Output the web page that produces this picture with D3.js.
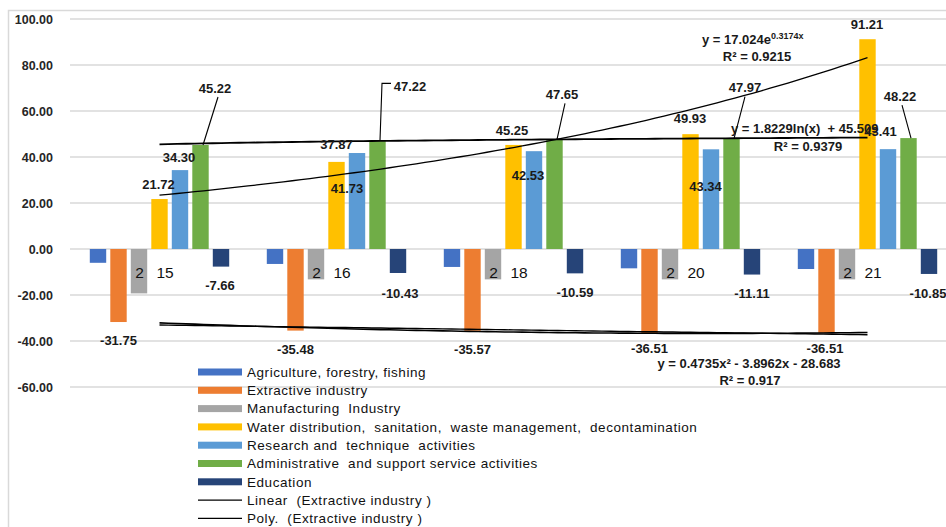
<!DOCTYPE html>
<html>
<head>
<meta charset="utf-8">
<script src="https://cdn.jsdelivr.net/npm/d3@7/dist/d3.min.js"></script>
<style>
  html, body { margin: 0; padding: 0; background: #fff; }
  svg { display: block; }
  text { font-family: "Liberation Sans", Arial, sans-serif; }
</style>
</head>
<body>
<svg id="chart" width="946" height="527"></svg>
<script>
// ---- data ----
const categories = ["2015", "2016", "2018", "2020", "2021"];
const seriesNames = [
  "Agriculture, forestry, fishing",
  "Extractive industry",
  "Manufacturing  Industry",
  "Water distribution,  sanitation,  waste management,  decontamination",
  "Research and  technique  activities",
  "Administrative  and support service activities",
  "Education"
];
const agriculture    = [-6.0, -6.5, -7.8, -8.4, -8.7];
const extractive     = [-31.75, -35.48, -35.57, -36.51, -36.51];
const manufacturing  = [-19.3, -13.2, -13.2, -13.2, -13.2];
const water          = [21.72, 37.87, 45.25, 49.93, 91.21];
const research       = [34.30, 41.73, 42.53, 43.34, 43.41];
const administrative = [45.22, 47.22, 47.65, 47.97, 48.22];
const education      = [-7.66, -10.43, -10.59, -11.11, -10.85];
const yTicks = [100, 80, 60, 40, 20, 0, -20, -40, -60];

// trendline coefficients (as reported on the chart)
const expWater = { a: 17.024, b: 0.3174, r2: 0.9215 };
const logAdmin = { a: 1.8229, b: 45.509, r2: 0.9379 };
const polyExtractive = { a: 0.4735, b: -3.8962, c: -28.683, r2: 0.917 };

const seriesValues = [agriculture, extractive, manufacturing, water, research, administrative, education];
const colors = ["#4472C4", "#ED7D31", "#A5A5A5", "#FFC000", "#5B9BD5", "#70AD47", "#264478"];

// number format with a plain hyphen for negatives
const fmt = d3.formatLocale({ decimal: ".", thousands: ",", grouping: [3], currency: ["", ""], minus: "-" }).format(".2f");

// ---- layout ----
const svg = d3.select("#chart");
const W = 946, H = 527;
const plotLeft = 71, plotRight = 956;

// outer border of the chart area
svg.append("rect").attr("x", 8.5).attr("y", 10.5).attr("width", 980).attr("height", 560)
  .attr("fill", "none").attr("stroke", "#d9d9d9").attr("stroke-width", 1.5);

const y = d3.scaleLinear().domain([-60, 100]).range([387, 19]);
const x0 = d3.scaleBand().domain(categories).range([plotLeft, plotRight]);
const x1 = d3.scaleBand().domain(d3.range(seriesNames.length)).range([0, x0.bandwidth()])
  .paddingInner(0.2).paddingOuter(0.917);
const xTrend = d3.scaleLinear().domain([1, 5])
  .range([x0(categories[0]) + x0.bandwidth() / 2, x0(categories[4]) + x0.bandwidth() / 2]);

// gridlines
svg.append("g").selectAll("line").data(yTicks).join("line")
  .attr("x1", 70).attr("x2", W).attr("y1", d => y(d)).attr("y2", d => y(d))
  .attr("stroke", "#d9d9d9").attr("stroke-width", 1.5);

// y axis labels
const yAxis = d3.axisLeft(y).tickValues(yTicks).tickFormat(fmt).tickSize(0).tickPadding(0);
const yg = svg.append("g").attr("transform", "translate(53,0)").call(yAxis);
yg.select(".domain").remove();
yg.selectAll("text").attr("font-family", "Liberation Sans, Arial, sans-serif")
  .attr("font-size", 12.5).attr("font-weight", "bold").attr("fill", "#262626");

// bars
const barsG = svg.append("g");
seriesValues.forEach((vals, si) => {
  barsG.append("g").selectAll("rect").data(vals).join("rect")
    .attr("x", (d, i) => x0(categories[i]) + x1(si))
    .attr("width", x1.bandwidth())
    .attr("y", d => y(Math.max(0, d)))
    .attr("height", d => Math.abs(y(d) - y(0)))
    .attr("fill", colors[si]);
});

// category labels sit just under the zero line
const catG = svg.append("g");
categories.forEach(c => {
  const t = catG.append("text")
    .attr("x", x0(c) + x0.bandwidth() / 2 - 1).attr("y", y(0) + 29)
    .attr("text-anchor", "middle").attr("font-size", 15.5).attr("fill", "#111");
  t.append("tspan").attr("dx", -4).text(c.slice(0, 1));
  t.append("tspan").attr("dx", 4).attr("fill", "none").text(c.slice(1, 2));
  t.append("tspan").text(c.slice(2));
});

// trendlines
const samples = d3.range(1, 5.0001, 0.05);
const lineGen = f => d3.line().x(t => xTrend(t)).y(t => y(f(t)))(samples);
const trendG = svg.append("g").attr("fill", "none").attr("stroke", "#000");

// linear least-squares fit of the extractive series
const xs = categories.map((c, i) => i + 1);
const mx = d3.mean(xs), my = d3.mean(extractive);
const slope = d3.sum(xs, (xv, i) => (xv - mx) * (extractive[i] - my)) / d3.sum(xs, xv => (xv - mx) ** 2);
const icpt = my - slope * mx;
trendG.append("path").attr("d", lineGen(t => icpt + slope * t)).attr("stroke-width", 1.4);
trendG.append("path").attr("d", lineGen(t => polyExtractive.a * t * t + polyExtractive.b * t + polyExtractive.c)).attr("stroke-width", 1.6);
trendG.append("path").attr("d", lineGen(t => expWater.a * Math.exp(expWater.b * t))).attr("stroke-width", 1.3);
trendG.append("path").attr("d", lineGen(t => logAdmin.a * Math.log(t) + logAdmin.b)).attr("stroke-width", 1.8);

// data labels: offsets from the bar's centre / outer end
const labelOffsets = {
  1: [[0, 18], [0, 18.5], [0, 19], [0, 15], [-1.5, 15]],
  3: [[-1, -15], [0, -18], [-1.5, -15], [-0.5, -16], [-0.5, -15]],
  4: [[-1, -13], [-10, 35], [-6, 24], [-5.5, 37], [-7.5, -18]],
  5: [[14.5, -57], [32.5, -54], [7.5, -45], [13.5, -51], [-8.5, -42]],
  6: [[-1, 18.5], [2, 20], [0, 19], [0, 18.5], [-1, 19]]
};
// leader lines for administrative labels, points relative to the label centre
const adminLeaders = [[[3, 9]], [[-19, -3], [-28, -3]], [[3, 9]], [[0, 9]], [[2, 9]]];

const labelG = svg.append("g");
const barCenter = (si, i) => x0(categories[i]) + x1(si) + x1.bandwidth() / 2;
Object.keys(labelOffsets).forEach(k => {
  const si = +k;
  seriesValues[si].forEach((v, i) => {
    const [dx, dy] = labelOffsets[si][i];
    const cx = barCenter(si, i) + dx, cy = y(v) + dy;
    if (si === 5) {
      const pts = adminLeaders[i].map(([px, py]) => [cx + px, cy + py]);
      pts.push([barCenter(si, i) + 2.5, y(v)]);
      labelG.append("path").attr("d", d3.line()(pts))
        .attr("fill", "none").attr("stroke", "#000").attr("stroke-width", 1.1);
    }
    labelG.append("text").attr("x", cx).attr("y", cy).attr("dy", "0.36em")
      .attr("text-anchor", "middle").attr("font-size", 13).attr("font-weight", "bold")
      .attr("fill", "#1a1a1a").text(fmt(v));
  });
});

// trendline equations
const eqG = svg.append("g").attr("font-size", 13).attr("font-weight", "bold").attr("fill", "#1a1a1a");
const expText = eqG.append("text").attr("x", 702).attr("y", 44);
expText.append("tspan").text(`y = ${expWater.a}e`);
expText.append("tspan").attr("font-size", 9).attr("dy", -5).text(`${expWater.b}x`);
eqG.append("text").attr("x", 757).attr("y", 61).attr("text-anchor", "middle").text(`R² = ${expWater.r2}`);

eqG.append("text").attr("x", 731).attr("y", 133).style("white-space", "pre")
  .text(`y = ${logAdmin.a}ln(x)  + ${logAdmin.b}`);
eqG.append("text").attr("x", 808).attr("y", 151).attr("text-anchor", "middle").text(`R² = ${logAdmin.r2}`);

eqG.append("text").attr("x", 749).attr("y", 368).attr("text-anchor", "middle")
  .text(`y = ${polyExtractive.a}x² - ${Math.abs(polyExtractive.b)}x - ${Math.abs(polyExtractive.c)}`);
eqG.append("text").attr("x", 750).attr("y", 385).attr("text-anchor", "middle").text(`R² = ${polyExtractive.r2}`);

// legend
const legendItems = seriesNames.map((n, i) => ({ name: n, color: colors[i], type: "bar" }))
  .concat([
    { name: "Linear  (Extractive industry )", color: "#000", type: "line" },
    { name: "Poly.  (Extractive industry )", color: "#000", type: "line" }
  ]);
const lg = svg.append("g").attr("transform", "translate(198,372)");
const row = lg.selectAll("g").data(legendItems).join("g")
  .attr("transform", (d, i) => `translate(0,${i * 18.3})`);
row.filter(d => d.type === "bar").append("rect")
  .attr("x", 0).attr("y", -3.5).attr("width", 44).attr("height", 7).attr("fill", d => d.color);
row.filter(d => d.type === "line").append("line")
  .attr("x1", 0).attr("x2", 44).attr("y1", 0).attr("y2", 0).attr("stroke", "#000").attr("stroke-width", 1.2);
row.append("text").attr("x", 49).attr("dy", "0.36em").attr("font-size", 13.5)
  .attr("letter-spacing", 0.55).attr("fill", "#111").style("white-space", "pre")
  .text(d => d.name);
</script>
</body>
</html>
